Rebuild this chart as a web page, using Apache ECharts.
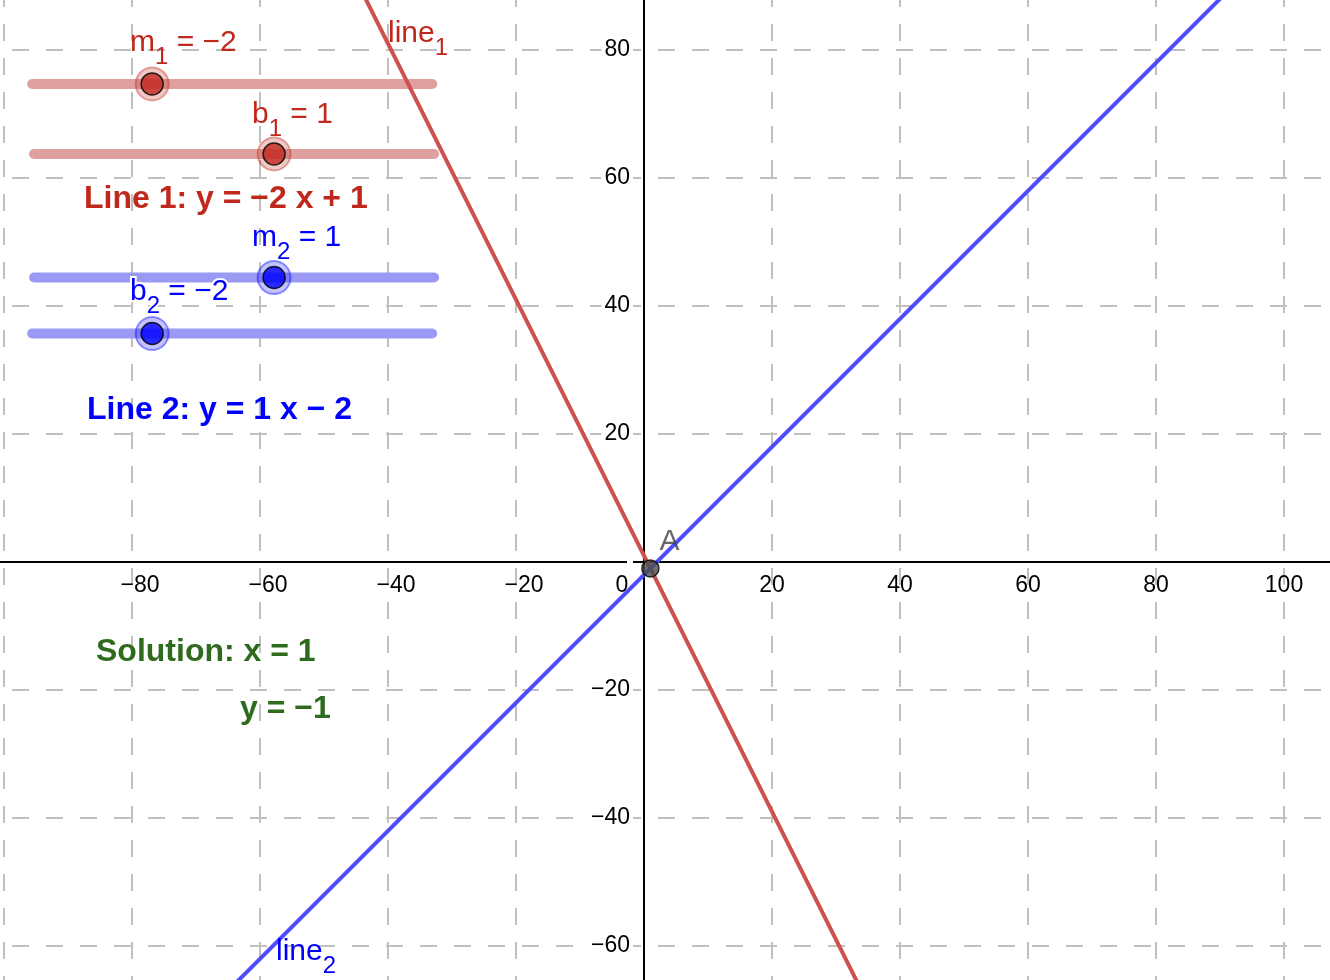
<!DOCTYPE html>
<html>
<head>
<meta charset="utf-8">
<script src="https://cdn.jsdelivr.net/npm/echarts@6/dist/echarts.min.js"></script>
<style>
html,body{margin:0;padding:0;background:#fff;}
#chart{width:1330px;height:980px;}
</style>
</head>
<body>
<div id="chart"></div>
<script>
// ---------------- data ----------------
const sliderLetters = ['m', 'b', 'm', 'b'];
const sliderSubscripts = ['1', '1', '2', '2'];
const sliderValues = [-2, 1, 1, -2];          // m1, b1, m2, b2
const sliderRange = [-5, 5];
const lineNames = ['line1', 'line2'];
const lineSlopes = [sliderValues[0], sliderValues[2]];
const lineIntercepts = [sliderValues[1], sliderValues[3]];
const pointName = 'A';
const xTickValues = [-80, -60, -40, -20, 0, 20, 40, 60, 80, 100];
const yTickValues = [-60, -40, -20, 20, 40, 60, 80];

// ---------------- layout / style ----------------
const FONT = '"Liberation Sans", Arial, Helvetica, sans-serif';
const X_EXT = [-120, 120];
const Y_EXT = [-80, 100];
const PX = 6.4; // pixels per unit
const GRID = { left: -124, right: -82, top: -78, bottom: -94 };
const RED = '#c0281e', RED_LINE = '#cc5252', RED_TRACK = '#e0a0a0';
const BLUE = '#0000ff', BLUE_LINE = '#4d4dff', BLUE_TRACK = '#9a9af5';
const GREEN = '#2f6b1f';
const sliderColors = [RED, RED, BLUE, BLUE];
const sliderTrackColors = [RED_TRACK, RED_TRACK, BLUE_TRACK, BLUE_TRACK];
const sliderHalo = ['rgba(200,60,50,0.35)', 'rgba(200,60,50,0.35)', 'rgba(40,40,255,0.35)', 'rgba(40,40,255,0.35)'];
const sliderHaloBorder = ['rgba(192,40,30,0.5)', 'rgba(192,40,30,0.5)', 'rgba(0,0,255,0.5)', 'rgba(0,0,255,0.5)'];
// slider track placement (in graph units): start x, y ; track length
const sliderTrackX0 = [-95.6, -95.3, -95.3, -95.6];
const sliderTrackY = [74.7, 63.75, 44.45, 35.7];
const SLIDER_LEN = 62.5;

const fmt = v => (v < 0 ? '\u2212' + (-v) : String(v));

function sliderPos(i) {
  const t = (sliderValues[i] - sliderRange[0]) / (sliderRange[1] - sliderRange[0]);
  return [sliderTrackX0[i] + t * SLIDER_LEN, sliderTrackY[i]];
}

const series = [];
// slider tracks
for (let i = 0; i < sliderValues.length; i++) {
  series.push({
    type: 'line', silent: true, symbol: 'none', z: 1,
    data: [[sliderTrackX0[i], sliderTrackY[i]], [sliderTrackX0[i] + SLIDER_LEN, sliderTrackY[i]]],
    lineStyle: { color: sliderTrackColors[i], width: 10, cap: 'round' }
  });
}
// lines y = m x + b
const lineColors = [RED_LINE, BLUE_LINE];
for (let k = 0; k < lineNames.length; k++) {
  const m = lineSlopes[k], b = lineIntercepts[k];
  series.push({
    type: 'line', name: lineNames[k], silent: true, symbol: 'none', z: 3, clip: true,
    data: X_EXT.map(x => [x, m * x + b]),
    lineStyle: { color: lineColors[k], width: 4 }
  });
}
// slider halos + points
series.push({
  type: 'scatter', silent: true, z: 4, symbol: 'circle', symbolSize: 33,
  data: sliderValues.map((v, i) => ({ value: sliderPos(i), itemStyle: { color: sliderHalo[i], borderColor: sliderHaloBorder[i], borderWidth: 2 } }))
});
series.push({
  type: 'scatter', silent: true, z: 5, symbol: 'circle', symbolSize: 22,
  data: sliderValues.map((v, i) => ({ value: sliderPos(i), itemStyle: { color: sliderColors[i], borderColor: '#000', borderWidth: 1.5 } }))
});
// intersection point A
const ax = (lineIntercepts[1] - lineIntercepts[0]) / (lineSlopes[0] - lineSlopes[1]);
const ay = lineSlopes[0] * ax + lineIntercepts[0];
series.push({
  type: 'scatter', silent: true, z: 6, symbol: 'circle', symbolSize: 17,
  data: [[ax, ay]],
  itemStyle: { color: '#4d4d4d', borderColor: '#000', borderWidth: 1.5 },
  label: { show: true, formatter: pointName, position: 'inside', offset: [19, -27], fontSize: 30, fontFamily: FONT, color: '#404040' }
});

// ---------------- texts ----------------
function richText(x, y, parts, color, opts) {
  opts = opts || {};
  const size = opts.size || 30, sub = opts.sub || 24, weight = opts.bold ? 'bold' : 'normal';
  const base = { fill: color, fontSize: size, fontFamily: FONT, fontWeight: weight };
  const subS = { fill: color, fontSize: sub, fontFamily: FONT, fontWeight: weight, padding: [28, 0, 0, 0] };
  if (opts.halo) {
    base.stroke = '#fff'; base.lineWidth = 4;
    subS.stroke = '#fff'; subS.lineWidth = 4;
  }
  return {
    type: 'text', x: x, y: y, z: 100, silent: true,
    style: {
      text: parts, align: 'left', verticalAlign: 'middle',
      fill: color, fontSize: size, fontFamily: FONT, fontWeight: weight,
      rich: { a: base, s: subS }
    }
  };
}
const m1 = sliderValues[0], b1 = sliderValues[1], m2 = sliderValues[2], b2 = sliderValues[3];
const signed = v => (v < 0 ? '\u2212 ' + (-v) : '+ ' + v);
const graphics = [
  richText(130, 43, '{a|' + sliderLetters[0] + '}{s|' + sliderSubscripts[0] + '}{a| = ' + fmt(m1) + '}', RED),
  richText(252, 115, '{a|' + sliderLetters[1] + '}{s|' + sliderSubscripts[1] + '}{a| = ' + fmt(b1) + '}', RED),
  richText(84, 199, '{a|Line 1: y = ' + fmt(m1) + ' x ' + signed(b1) + '}', RED, { bold: true, size: 32 }),
  richText(252, 238, '{a|' + sliderLetters[2] + '}{s|' + sliderSubscripts[2] + '}{a| = ' + fmt(m2) + '}', BLUE),
  richText(130, 292, '{a|' + sliderLetters[3] + '}{s|' + sliderSubscripts[3] + '}{a| = ' + fmt(b2) + '}', BLUE, { halo: true }),
  richText(87, 410, '{a|Line 2: y = ' + fmt(m2) + ' x ' + signed(b2) + '}', BLUE, { bold: true, size: 32 }),
  richText(96, 652, '{a|Solution: x = ' + fmt(ax) + '}', GREEN, { bold: true, size: 32 }),
  richText(240, 709, '{a|y = ' + fmt(ay) + '}', GREEN, { bold: true, size: 32 }),
  richText(388, 34, '{a|line}{s|1}', RED),
  richText(276, 952, '{a|line}{s|2}', BLUE)
];

// axes are moved from the grid edge onto the origin with an offset
const gridBottomPx = 980 - GRID.bottom;                 // pixel y of grid bottom edge
const originYpx = GRID.top + (Y_EXT[1] - 0) * PX;       // pixel y of y=0
const originXpx = GRID.left + (0 - X_EXT[0]) * PX;      // pixel x of x=0

const axisLabelBase = { fontSize: 23, fontFamily: FONT, color: '#000' };
const option = {
  animation: false,
  backgroundColor: '#fff',
  grid: Object.assign({ containLabel: false, outerBoundsMode: 'none' }, GRID),
  xAxis: {
    type: 'value', min: X_EXT[0], max: X_EXT[1], interval: 20,
    position: 'bottom', offset: -(gridBottomPx - originYpx),
    axisLine: { show: true, onZero: false, lineStyle: { color: '#000', width: 2 } },
    axisTick: { show: false },
    splitLine: { show: true, lineStyle: { color: '#c0c0c0', width: 2, type: [17, 17] } },
    axisLabel: Object.assign({}, axisLabelBase, {
      margin: 12,
      formatter: v => {
        if (!xTickValues.includes(v)) return '';
        if (v === 0) return '{z|0}';
        if (v < 0) return '{n|' + fmt(v) + '}';
        return '{p|' + fmt(v) + '}';
      },
      rich: {
        z: Object.assign({}, axisLabelBase, { padding: [0, 44, 0, 0] }),
        n: Object.assign({}, axisLabelBase, { padding: [0, 0, 0, 16] }),
        p: Object.assign({}, axisLabelBase)
      }
    })
  },
  yAxis: {
    type: 'value', min: Y_EXT[0], max: Y_EXT[1], interval: 20,
    position: 'left', offset: -(originXpx - GRID.left),
    axisLine: { show: true, onZero: false, lineStyle: { color: '#000', width: 2 } },
    axisTick: { show: false },
    splitLine: { show: true, lineStyle: { color: '#c0c0c0', width: 2, type: [17, 17] } },
    axisLabel: Object.assign({}, axisLabelBase, {
      margin: 11,
      backgroundColor: '#fff', padding: [2, 3, 2, 3],
      formatter: v => (yTickValues.includes(v) ? fmt(v) : '')
    })
  },
  series: series,
  graphic: graphics
};
const chart = echarts.init(document.getElementById('chart'), null, { renderer: 'canvas' });
chart.setOption(option);
</script>
</body>
</html>
